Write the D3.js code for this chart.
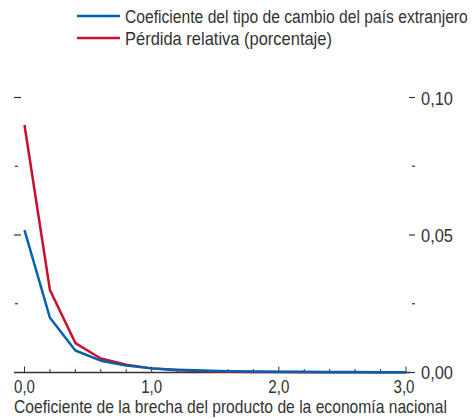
<!DOCTYPE html>
<html><head><meta charset="utf-8">
<script src="https://cdn.jsdelivr.net/npm/d3@7"></script>
<style>body{margin:0;background:#fff}svg{display:block}text{font-family:"Liberation Sans",Arial,sans-serif;fill:#333}</style>
</head><body><svg id="c" width="474" height="419"></svg>
<script>
const xValues = [0.0,0.2,0.4,0.6,0.8,1.0,1.2,1.4,1.6,1.8,2.0,2.2,2.4,2.6,2.8,3.0];
const coefTipoCambio = [0.0518,0.0199,0.0080,0.0043,0.0025,0.0015,0.0010,0.0007,0.0005,0.0004,0.0003,0.00025,0.0002,0.00015,0.00012,0.0001];
const perdidaRelativa = [0.0900,0.0300,0.0107,0.0051,0.0028,0.0015,0.0008,0.0005,0.0003,0.0002,0.00015,0.0001,0.0001,0.00008,0.00006,0.00005];
const seriesNames = ["Coeficiente del tipo de cambio del país extranjero","Pérdida relativa (porcentaje)"];
const xTickLabels = ["0,0","1,0","2,0","3,0"];
const yTickLabels = ["0,00","0,05","0,10"];
const xTitle = "Coeficiente de la brecha del producto de la economía nacional";

const svg = d3.select("#c");
const x = d3.scaleLinear().domain([0,3]).range([24.5,406]);
const y = d3.scaleLinear().domain([0,0.10]).range([372.5,97.5]);
const blue = "#0062b1", red = "#c8102e", ink = "#333";

// text squeezed horizontally to a target width (condensed look)
function condensed(xPos, yPos, size, width, str, anchor) {
  const g = svg.append("g");
  const t = g.append("text").attr("font-size", size).text(str);
  const w = t.node().getComputedTextLength();
  const s = Math.min(1, width / w);
  let left = xPos;
  if (anchor === "middle") left = xPos - w * s / 2;
  g.attr("transform", `translate(${left},${yPos}) scale(${s},1)`);
  return g;
}

// x axis line
svg.append("line").attr("x1",14).attr("x2",410).attr("y1",y(0)).attr("y2",y(0)).attr("stroke",ink).attr("stroke-width",1.5);
// x ticks (upward)
d3.range(0,16).forEach(i=>{
  const v = i*0.2, major = i%5===0;
  svg.append("line").attr("x1",x(v)).attr("x2",x(v)).attr("y1",y(0)).attr("y2",y(0)-(major?6:3.5)).attr("stroke",ink).attr("stroke-width",1);
});
xTickLabels.forEach((t,i)=>{
  condensed(x(i)+(i===3?-2:0), 392.5, 18, 21, t, "middle");
});
// y ticks left and right
[0.025,0.05,0.075,0.10].forEach(v=>{
  const major = Math.abs(v*20-Math.round(v*20))<1e-9;
  svg.append("line").attr("x1",major?14:15).attr("x2",major?21:18).attr("y1",y(v)).attr("y2",y(v)).attr("stroke",ink).attr("stroke-width",1.2);
});
[0,0.025,0.05,0.075,0.10].forEach(v=>{
  const major = Math.abs(v*20-Math.round(v*20))<1e-9;
  svg.append("line").attr("x1",major?409:412).attr("x2",415).attr("y1",y(v)).attr("y2",y(v)).attr("stroke",ink).attr("stroke-width",1.2);
});
yTickLabels.forEach((t,i)=>{
  condensed(421, y(i*0.05)+(i===0?6:7), 18, 32, t, "start");
});
// x title
condensed(14, 413, 18, 433, xTitle, "start");

// lines
const line = d3.line().x((d,i)=>x(xValues[i])).y(d=>y(d));
svg.append("path").datum(perdidaRelativa).attr("d",line).attr("fill","none").attr("stroke",red).attr("stroke-width",2.5).attr("stroke-linejoin","round");
svg.append("path").datum(coefTipoCambio).attr("d",line).attr("fill","none").attr("stroke",blue).attr("stroke-width",2.5).attr("stroke-linejoin","round");

// legend
const legY = [16,38], legCol = [blue, red], legLen = [343, 207];
seriesNames.forEach((n,i)=>{
  svg.append("line").attr("x1",77).attr("x2",120).attr("y1",legY[i]).attr("y2",legY[i]).attr("stroke",legCol[i]).attr("stroke-width",2.5);
  condensed(125, legY[i]+6.5, 18, legLen[i], n, "start");
});
</script></body></html>
